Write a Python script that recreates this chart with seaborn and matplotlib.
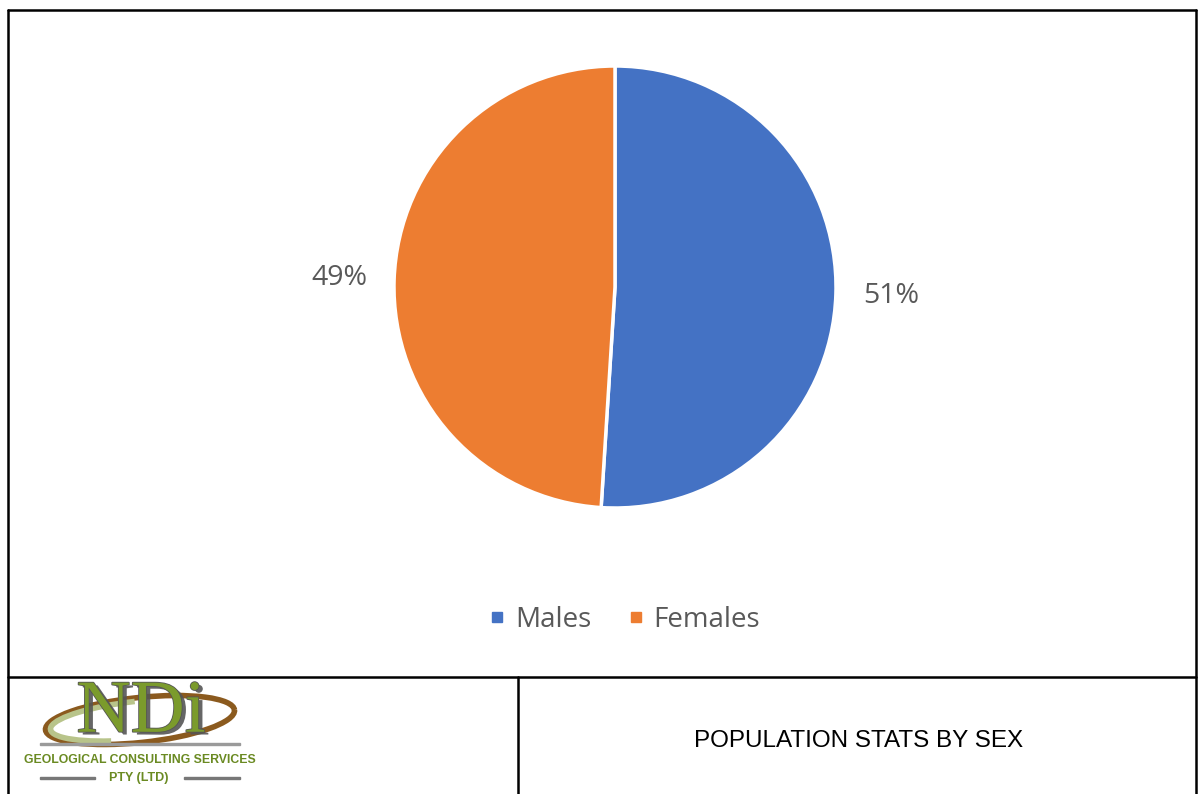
import matplotlib
matplotlib.use("Agg")
import matplotlib.pyplot as plt
import matplotlib.patheffects as pe
import seaborn as sns
from matplotlib.lines import Line2D
from matplotlib.patches import Rectangle, Arc

sns.set_theme(style="white")
plt.rcParams['font.family'] = ['Open Sans', 'DejaVu Sans']

categories = ["Males", "Females"]
values = [51, 49]
colors = ["#4472C4", "#ED7D31"]
title_text = "POPULATION STATS BY SEX"

W, H = 1202, 794
fig = plt.figure(figsize=(W / 100, H / 100), dpi=100)
fig.patch.set_facecolor("white")

def fx(x):
    return x / W

def fy(y):
    return 1 - y / H

# Pie
cx, cy, r = 615, 287, 221
ax = fig.add_axes([fx(cx - r), fy(cy + r), 2 * r / W, 2 * r / H])
wedges, texts, autotexts = ax.pie(
    values, colors=colors, startangle=90, counterclock=False,
    autopct=lambda p: f"{p:.0f}%", pctdistance=1.25,
    wedgeprops=dict(edgecolor="white", linewidth=2.5),
    textprops=dict(color="#595959", fontsize=20.5),
)
ax.set_xlim(-1, 1)
ax.set_ylim(-1, 1)
ax.set_aspect("equal")
ax.axis("off")

# Legend
handles = [Line2D([0], [0], marker="s", linestyle="none", markersize=7,
                  markerfacecolor=c, markeredgecolor=c) for c in colors]
fig.legend(handles, categories, loc="center", bbox_to_anchor=(fx(623), fy(620)),
           ncol=2, frameon=False, fontsize=20, labelcolor="#595959",
           handletextpad=0.25, columnspacing=1.2, handlelength=0.8)

# Borders
lw = 1.8
def line(x0, y0, x1, y1):
    fig.add_artist(Line2D([fx(x0), fx(x1)], [fy(y0), fy(y1)], color="black", lw=lw))

line(8, 10, 1196, 10)
line(8, 10, 8, 794)
line(1196, 10, 1196, 794)
line(8, 677, 1196, 677)
line(518, 677, 518, 794)

# Title in bottom-right box
fig.text(fx(859), fy(741), title_text, ha="center", va="center",
         fontsize=17.5, color="black", family=["Liberation Sans", "DejaVu Sans"])

# Logo (approximation)
green = "#7B9B2C"
dgreen = "#6A8A22"
gray = "#555555"
brown = "#8B5A1E"
la = fig.add_axes([0, 0, 1, 1], zorder=-1)
la.set_xlim(0, W)
la.set_ylim(H, 0)
la.axis("off")
la.add_patch(Arc((140, 720), 190, 45, theta1=0, theta2=360, color=brown, lw=4, angle=-6))
la.add_patch(Arc((140, 720), 180, 38, theta1=150, theta2=260, color="#B8C48A", lw=4, angle=-6))
la.text(141, 714, "NDi", fontsize=54, ha="center", va="center", color=green,
        family=["Liberation Serif", "DejaVu Serif"],
        path_effects=[pe.withSimplePatchShadow(offset=(3, -2), shadow_rgbFace=gray, alpha=0.9),
                      pe.withStroke(linewidth=1.2, foreground=gray)])
la.add_patch(Rectangle((40, 743), 200, 2, color="#9a9a9a"))
la.text(140, 760, "GEOLOGICAL CONSULTING SERVICES", fontsize=8.8, ha="center", va="center",
        color=dgreen, fontweight="bold", family=["Liberation Sans", "DejaVu Sans"])
la.text(139, 778, "PTY (LTD)", fontsize=9, ha="center", va="center",
        color=dgreen, fontweight="bold", family=["Liberation Sans", "DejaVu Sans"])
la.add_patch(Rectangle((40, 777), 55, 1.6, color="#777777"))
la.add_patch(Rectangle((184, 777), 56, 1.6, color="#777777"))

fig.savefig("out.png", dpi=100, facecolor="white")
